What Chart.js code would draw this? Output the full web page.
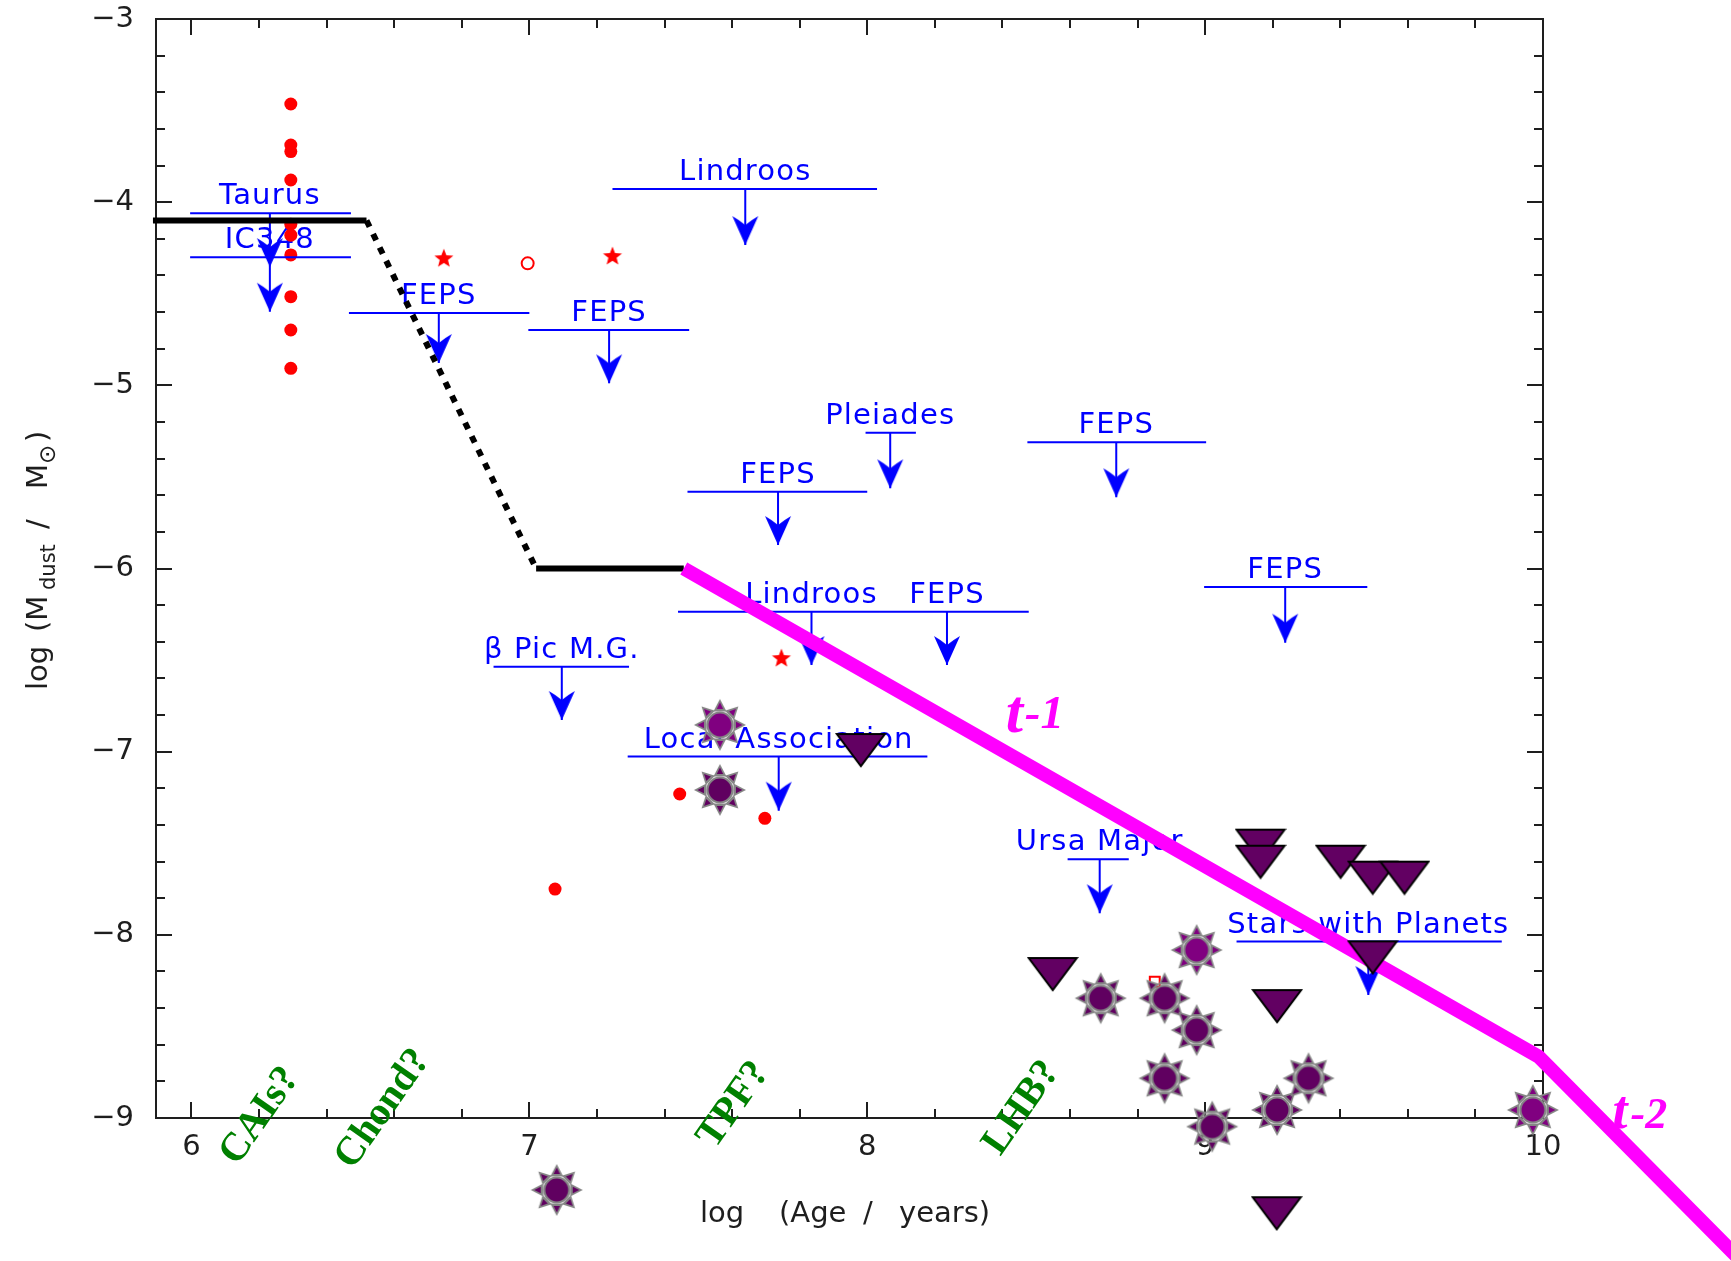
<!DOCTYPE html>
<html>
<head>
<meta charset="utf-8">
<title>Dust mass versus age</title>
<script src="https://cdn.jsdelivr.net/npm/chart.js@4.4.1/dist/chart.umd.min.js"></script>
<style>
  html, body { margin: 0; padding: 0; background: #fff; }
  canvas { display: block; }
</style>
</head>
<body>
<canvas id="chart" width="1731" height="1261" style="width:1731px;height:1261px"></canvas>
<script>
// ---- axis ticks ----
const xTicks = [6, 7, 8, 9, 10];
const xTickLabels = ['6', '7', '8', '9', '10'];
const yTicks = [-3, -4, -5, -6, -7, -8, -9];
const yTickLabels = ['\u22123', '\u22124', '\u22125', '\u22126', '\u22127', '\u22128', '\u22129'];

// ---- survey upper limits: bar x1..x2 at yBar, arrow at xArrow down to yTip ----
const limitNames = ['Taurus', 'IC348', 'FEPS', 'FEPS', 'Lindroos', 'Pleiades', 'FEPS', 'FEPS', 'FEPS',
                    'Lindroos', 'FEPS', '\u03B2 Pic M.G.', 'Local Association', 'Ursa Major', 'Stars with Planets'];
const limitX1     = [5.996, 5.996, 6.466, 6.997, 7.246, 7.995, 7.468, 8.474, 8.997, 7.440, 8.037, 6.894, 7.291, 8.593, 9.093];
const limitX2     = [6.472, 6.472, 7.000, 7.473, 8.029, 8.144, 8.000, 9.003, 9.480, 8.037, 8.478, 7.295, 8.178, 8.774, 9.878];
const limitXArrow = [6.232, 6.232, 6.732, 7.236, 7.639, 8.068, 7.736, 8.737, 9.237, 7.835, 8.236, 7.096, 7.738, 8.688, 9.483];
const limitYBar   = [-4.061, -4.301, -4.605, -4.698, -3.928, -5.259, -5.581, -5.311, -6.101, -6.236, -6.236, -6.537, -7.027, -7.588, -8.037];
const limitYTip   = [-4.354, -4.598, -4.878, -4.989, -4.234, -5.562, -5.872, -5.611, -6.405, -6.527, -6.527, -6.827, -7.322, -7.882, -8.328];

// ---- detected discs (red) ----
const discX = [6.294, 6.294, 6.294, 6.294, 6.294, 6.294, 6.294, 6.294, 6.294, 6.294, 7.076, 7.445, 7.697];
const discY = [-3.464, -3.688, -3.724, -3.879, -4.120, -4.180, -4.288, -4.516, -4.698, -4.907, -7.750, -7.231, -7.364];
const starX = [6.747, 7.246, 7.746];
const starY = [-4.306, -4.294, -6.489];
const ringX = [6.995];
const ringY = [-4.334];
const boxX = [8.851];
const boxY = [-8.256];

// ---- sun-like stars: detections (suns) and upper limits (triangles) ----
const sunX = [7.081, 7.564, 7.564, 8.691, 8.880, 8.880, 8.975, 8.975, 9.021, 9.213, 9.306, 9.970];
const sunY = [-9.393, -6.854, -7.209, -8.346, -8.346, -8.783, -8.083, -8.520, -9.047, -8.956, -8.783, -8.956];
const sunLight = [false, true, false, false, false, false, true, false, false, false, false, true];
const triX = [8.549, 7.981, 9.164, 9.164, 9.401, 9.496, 9.590, 9.496, 9.213, 9.212];
const triY = [-8.214, -6.991, -7.513, -7.601, -7.601, -7.688, -7.688, -8.123, -8.389, -9.520];

// ---- evolution tracks ----
const stepX = [5.886, 6.518, 7.020, 7.457];
const stepY = [-4.1, -4.1, -6.0, -6.0];
const decayX = [7.457, 9.987, 10.6];
const decayY = [-6.0, -8.665, -9.805];
const decayLabelX = [8.410, 10.206];
const decayLabelY = [-6.893, -9.055];
const decayExponent = ['-1', '-2'];

// ---- solar-system events ----
const eventNames = ['CAIs?', 'Chond?', 'TPF?', 'LHB?'];
const eventX = [6.203, 6.567, 7.605, 8.457];
const eventY = [-8.989, -8.951, -8.929, -8.945];

// ---------------------------------------------------------------
const PLOT_TOP = 19;
const PURPLE_DARK = '#600060';
const PURPLE_LIGHT = '#800080';
const BLUE = '#0000ff';
const RED = '#ff0000';
const MAGENTA = '#ff00ff';
const AXIS = '#1e1e1e';
const FONT = '"DejaVu Sans", "Liberation Sans", sans-serif';
const SERIF = '"Liberation Serif", "Times New Roman", serif';

function makeCanvas(w, h) {
  const c = document.createElement('canvas');
  c.width = w; c.height = h;
  return c;
}

function makeSun(fill) {
  const s = 56, c = s / 2;
  const cv = makeCanvas(s, s), g = cv.getContext('2d');
  function ray(a, r0, r1, hw, col) {
    const ux = Math.sin(a), uy = -Math.cos(a), px = -uy, py = ux;
    g.beginPath();
    g.moveTo(c + ux * r0 + px * hw, c + uy * r0 + py * hw);
    g.lineTo(c + ux * r1, c + uy * r1);
    g.lineTo(c + ux * r0 - px * hw, c + uy * r0 - py * hw);
    g.closePath();
    g.fillStyle = col;
    g.fill();
  }
  for (let k = 0; k < 8; k++) {
    const a = k * Math.PI / 4;
    ray(a, 13.5, 26, 6.5, '#858585');
    ray(a, 16, 22.5, 3.2, fill);
  }
  g.beginPath();
  g.arc(c, c, 12.5, 0, Math.PI * 2);
  g.fillStyle = fill;
  g.fill();
  g.lineWidth = 2.2;
  g.strokeStyle = '#858585';
  g.stroke();
  return cv;
}

function makeTriangle() {
  const cv = makeCanvas(52, 36), g = cv.getContext('2d');
  g.beginPath();
  g.moveTo(2, 2); g.lineTo(50, 2); g.lineTo(26, 34); g.closePath();
  g.fillStyle = '#620062';
  g.fill();
  g.lineWidth = 2;
  g.strokeStyle = '#000';
  g.stroke();
  return cv;
}

// arrowhead with its tip at the canvas centre
function makeArrowHead() {
  const cv = makeCanvas(28, 60), g = cv.getContext('2d');
  g.beginPath();
  g.moveTo(14, 30);
  g.lineTo(1, 1);
  g.quadraticCurveTo(8, 5, 14, 10);
  g.quadraticCurveTo(20, 5, 27, 1);
  g.closePath();
  g.fillStyle = BLUE;
  g.fill();
  return cv;
}

function makeStar() {
  const cv = makeCanvas(24, 24), g = cv.getContext('2d');
  g.beginPath();
  for (let k = 0; k < 10; k++) {
    const r = k % 2 === 0 ? 10 : 4.3;
    const a = k * Math.PI / 5;
    const x = 12 + r * Math.sin(a), y = 12.5 - r * Math.cos(a);
    if (k === 0) g.moveTo(x, y); else g.lineTo(x, y);
  }
  g.closePath();
  g.fillStyle = RED;
  g.fill();
  return cv;
}

const sunDarkImg = makeSun(PURPLE_DARK);
const sunLightImg = makeSun(PURPLE_LIGHT);
const triImg = makeTriangle();
const arrowImg = makeArrowHead();
const starImg = makeStar();

const pts = (xs, ys) => xs.map((x, i) => ({ x, y: ys[i] }));

// bars and shafts as broken polylines (null breaks the line)
const barData = [];
const shaftData = [];
limitNames.forEach((_, i) => {
  barData.push({ x: limitX1[i], y: limitYBar[i] }, { x: limitX2[i], y: limitYBar[i] }, { x: limitX2[i], y: null });
  shaftData.push({ x: limitXArrow[i], y: limitYBar[i] }, { x: limitXArrow[i], y: limitYTip[i] }, { x: limitXArrow[i], y: null });
});

const stepSolid = [
  { x: stepX[0], y: stepY[0] }, { x: stepX[1], y: stepY[1] },
  { x: (stepX[1] + stepX[2]) / 2, y: null },
  { x: stepX[2], y: stepY[2] }, { x: stepX[3], y: stepY[3] }
];
const stepDotted = [{ x: stepX[1], y: stepY[1] }, { x: stepX[2], y: stepY[2] }];

const lineDefaults = { showLine: true, pointRadius: 0, fill: false, tension: 0, spanGaps: false, clip: false };

// ---------------- drawing helpers on top of the scales ----------------
const decorations = {
  id: 'decorations',
  beforeDatasetsDraw(chart) {
    const { ctx, chartArea: a, scales: { x, y } } = chart;
    ctx.save();

    // frame
    ctx.strokeStyle = AXIS;
    ctx.lineWidth = 2;
    ctx.strokeRect(a.left, a.top, a.right - a.left, a.bottom - a.top);

    // inward ticks on all four sides, minor every 0.2
    ctx.beginPath();
    for (let k = 25; k <= 50; k++) {
      const v = k / 5;
      if (v < x.min - 1e-9 || v > x.max + 1e-9) continue;
      const len = k % 5 === 0 ? 16 : 9;
      const px = Math.round(x.getPixelForValue(v));
      ctx.moveTo(px, a.bottom); ctx.lineTo(px, a.bottom - len);
      ctx.moveTo(px, a.top); ctx.lineTo(px, a.top + len);
    }
    for (let k = -45; k <= -15; k++) {
      const v = k / 5;
      if (v < y.min - 1e-9 || v > y.max + 1e-9) continue;
      const len = k % 5 === 0 ? 16 : 9;
      const py = Math.round(y.getPixelForValue(v));
      ctx.moveTo(a.left, py); ctx.lineTo(a.left + len, py);
      ctx.moveTo(a.right, py); ctx.lineTo(a.right - len, py);
    }
    ctx.stroke();

    // survey labels above their bars
    ctx.fillStyle = BLUE;
    ctx.font = '29px ' + FONT;
    ctx.textAlign = 'center';
    ctx.textBaseline = 'alphabetic';
    if ('letterSpacing' in ctx) ctx.letterSpacing = '1.2px';
    limitNames.forEach((name, i) => {
      ctx.fillText(name, x.getPixelForValue(limitXArrow[i]), y.getPixelForValue(limitYBar[i]) - 9);
    });
    if ('letterSpacing' in ctx) ctx.letterSpacing = '0px';

    // axis titles
    ctx.fillStyle = AXIS;
    ctx.textAlign = 'left';
    ctx.font = '29px ' + FONT;
    const xt = [['log', 700], ['(Age', 779], ['/', 863], ['years)', 899]];
    xt.forEach(([t, px]) => ctx.fillText(t, px, 1222));

    ctx.save();
    ctx.translate(47, 690);
    ctx.rotate(-Math.PI / 2);
    ctx.font = '29px ' + FONT;
    ctx.fillText('log', 0, 0);
    ctx.fillText('(M', 58, 0);
    ctx.font = '21px ' + FONT;
    ctx.fillText('dust', 100, 8);
    ctx.font = '29px ' + FONT;
    ctx.fillText('/', 161, 0);
    ctx.fillText('M', 201, 0);
    ctx.font = '23px ' + FONT;
    ctx.fillText('\u2299', 226, 8);
    ctx.font = '29px ' + FONT;
    ctx.fillText(')', 248, 0);
    ctx.restore();

    // solar-system event markers
    ctx.fillStyle = '#008000';
    ctx.font = 'bold 40px ' + SERIF;
    ctx.textAlign = 'center';
    ctx.textBaseline = 'middle';
    eventNames.forEach((t, i) => {
      ctx.save();
      ctx.translate(x.getPixelForValue(eventX[i]), y.getPixelForValue(eventY[i]));
      ctx.rotate(-55 * Math.PI / 180);
      ctx.fillText(t, 0, 0);
      ctx.restore();
    });
    ctx.restore();
  },
  afterDatasetsDraw(chart) {
    const { ctx, scales: { x, y } } = chart;
    // [t size, exponent size, exponent raise, exponent offset]
    const sizes = [[62, 47, 4, 19], [54, 44, 0, 18]];
    ctx.save();
    ctx.fillStyle = MAGENTA;
    ctx.textAlign = 'left';
    ctx.textBaseline = 'alphabetic';
    decayExponent.forEach((e, i) => {
      const [main, sup, raise, gap] = sizes[i];
      const px = x.getPixelForValue(decayLabelX[i]);
      const py = y.getPixelForValue(decayLabelY[i]);
      ctx.font = 'italic bold ' + main + 'px ' + SERIF;
      ctx.fillText('t', px, py);
      ctx.font = 'italic bold ' + sup + 'px ' + SERIF;
      ctx.fillText(e, px + gap, py - raise);
    });
    ctx.restore();
  }
};

const chart = new Chart(document.getElementById('chart'), {
  type: 'scatter',
  data: {
    datasets: [
      { label: 'limits', data: pts(triX, triY), pointStyle: triImg, pointRadius: 130, clip: false, order: 1 },
      { label: 'detections', data: pts(sunX, sunY), pointStyle: c => (sunLight[c.dataIndex] ? sunLightImg : sunDarkImg), pointRadius: 130, clip: false, order: 2 },
      { label: 't decay', data: pts(decayX, decayY), ...lineDefaults, borderColor: MAGENTA, borderWidth: 14, borderCapStyle: 'butt', borderJoinStyle: 'miter', order: 3 },
      { label: 'plateau', data: stepSolid, ...lineDefaults, borderColor: '#000', borderWidth: 6, borderCapStyle: 'butt', order: 4 },
      { label: 'transition', data: stepDotted, ...lineDefaults, borderColor: '#000', borderWidth: 6, borderDash: [7, 8], borderCapStyle: 'butt', order: 4 },
      { label: 'arrowheads', data: pts(limitXArrow, limitYTip), pointStyle: arrowImg, pointRadius: 40, clip: false, order: 5 },
      { label: 'shafts', data: shaftData, ...lineDefaults, borderColor: BLUE, borderWidth: 2, order: 5 },
      { label: 'bars', data: barData, ...lineDefaults, borderColor: BLUE, borderWidth: 2, order: 5 },
      { label: 'discs', data: pts(discX, discY), pointStyle: 'circle', pointRadius: 6.5, backgroundColor: RED, borderColor: RED, borderWidth: 0, clip: false, order: 6 },
      { label: 'stars', data: pts(starX, starY), pointStyle: starImg, pointRadius: 20, clip: false, order: 6 },
      { label: 'ring', data: pts(ringX, ringY), pointStyle: 'circle', pointRadius: 6, backgroundColor: 'rgba(0,0,0,0)', borderColor: RED, borderWidth: 2, clip: false, order: 6 },
      { label: 'box', data: pts(boxX, boxY), pointStyle: 'rect', pointRadius: 7, backgroundColor: 'rgba(0,0,0,0)', borderColor: RED, borderWidth: 2, clip: false, order: 7 }
    ]
  },
  options: {
    responsive: false,
    devicePixelRatio: 1,
    animation: false,
    events: [],
    layout: { autoPadding: false, padding: { left: 0, right: 188, top: PLOT_TOP, bottom: 0 } },
    plugins: { legend: { display: false }, tooltip: { enabled: false }, title: { display: false } },
    scales: {
      x: {
        type: 'linear',
        min: 5.895,
        max: 10.0,
        grid: { display: false, drawTicks: false },
        border: { display: false },
        afterBuildTicks: s => { s.ticks = xTicks.map(v => ({ value: v })); },
        afterFit: s => { s.height = 143; s.paddingLeft = 0; s.paddingRight = 0; },
        ticks: {
          autoSkip: false,
          maxRotation: 0,
          padding: 12,
          color: AXIS,
          font: { family: 'DejaVu Sans', size: 29 },
          callback: v => xTickLabels[xTicks.indexOf(v)]
        }
      },
      y: {
        type: 'linear',
        min: -9,
        max: -3,
        grid: { display: false, drawTicks: false },
        border: { display: false },
        afterBuildTicks: s => { s.ticks = yTicks.map(v => ({ value: v })); },
        afterFit: s => { s.width = 156; s.paddingTop = 0; s.paddingBottom = 0; },
        ticks: {
          padding: 22,
          color: AXIS,
          font: { family: 'DejaVu Sans', size: 29 },
          callback: v => yTickLabels[yTicks.indexOf(v)]
        }
      }
    }
  },
  plugins: [decorations]
});

// keep the plot frame's top edge at PLOT_TOP whatever padding the layout adds
const extraTop = chart.chartArea.top - PLOT_TOP;
if (Math.abs(extraTop) > 0.5) {
  chart.options.layout.padding.top = Math.max(0, PLOT_TOP - extraTop);
  chart.update();
}
</script>
</body>
</html>
